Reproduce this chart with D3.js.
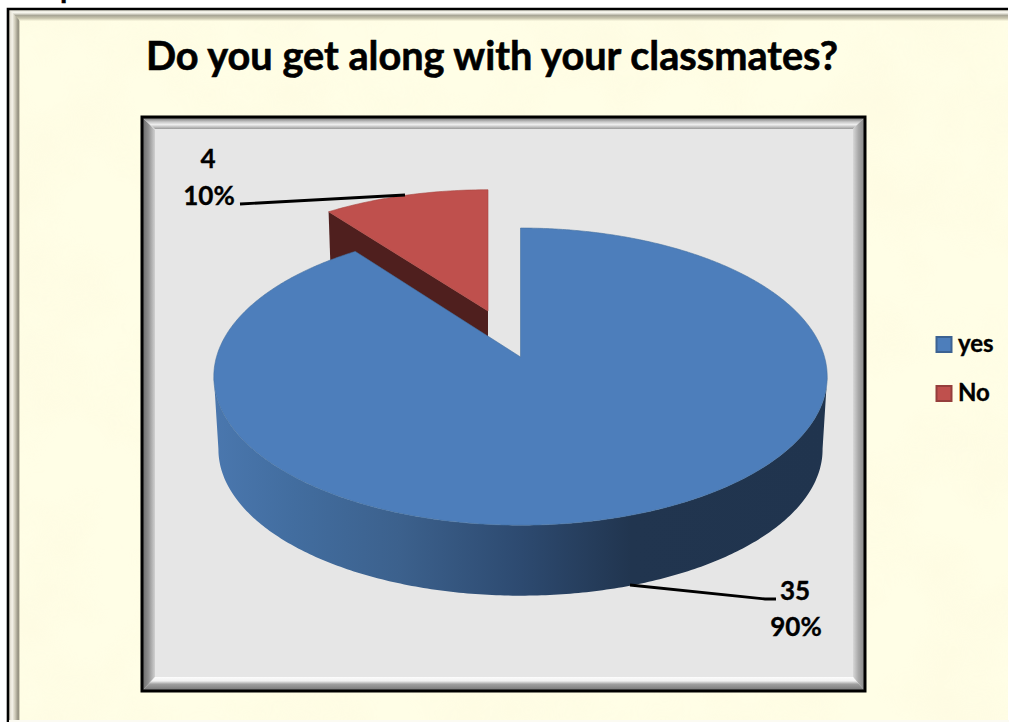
<!DOCTYPE html>
<html><head><meta charset="utf-8">
<script src="https://cdnjs.cloudflare.com/ajax/libs/d3/7.8.5/d3.min.js"></script>
<style>html,body{margin:0;padding:0;background:#fff;overflow:hidden}svg{display:block}text{font-family:Lato,"Open Sans",sans-serif;font-weight:700;fill:#000;stroke:#000;stroke-width:.35px}</style>
</head><body><svg id="c" width="1009" height="722"></svg>
<script>
const titleText = "Do you get along with your classmates?";
const categories = ["yes", "No"];
const values = [35, 4];
const topColors = ["#4d7ebb", "#bf504d"];
const redWall = "#4f1f1e";

const svg = d3.select("#c");
const defs = svg.append("defs");
const total = d3.sum(values);
const pct = d3.format(".0%");
const slices = d3.pie().sort(null).value(d => d)(values);

function grad(id, x1, y1, x2, y2, stops, user) {
  const g = defs.append("linearGradient").attr("id", id)
    .attr("x1", x1).attr("y1", y1).attr("x2", x2).attr("y2", y2);
  if (user) g.attr("gradientUnits", "userSpaceOnUse");
  stops.forEach(s => g.append("stop").attr("offset", s[0]).attr("stop-color", s[1]));
}
grad("wall", 214, 0, 828, 0, [[0,"#4a77ae"],[.13,"#426d9f"],[.3,"#3c618d"],[.5,"#2d4a70"],[.68,"#21354f"],[1,"#20344e"]], true);
const f = defs.append("filter").attr("id","paper").attr("x",0).attr("y",0).attr("width",1).attr("height",1);
f.append("feTurbulence").attr("type","fractalNoise").attr("baseFrequency","0.012").attr("numOctaves",3).attr("seed",7);
f.append("feColorMatrix").attr("type","matrix").attr("values","0 0 0 0 0.98  0 0 0 0 0.93  0 0 0 0 0.72  1.6 0 0 0 -0.6");

// outer frame
svg.append("rect").attr("x",7).attr("y",8).attr("width",1001).attr("height",712).attr("fill","#fffee6");
svg.append("rect").attr("x",19).attr("y",20).attr("width",989).attr("height",700).attr("filter","url(#paper)").attr("opacity",.45);
grad("fTop",0,0,0,1,[[0,"#e8e5d8"],[.25,"#f7f6ee"],[.5,"#a9a696"],[.75,"#c9c5ae"],[1,"#fdfbe2"]]);
grad("fLeft",9,0,20,0,[[0,"#d8d4c6"],[.3,"#f4f2e8"],[.55,"#cfcbb9"],[.85,"#8f8c7c"],[1,"#f5f2d8"]],true);
svg.append("path").attr("d","M9,10H20V720H9Z").attr("fill","url(#fLeft)");
svg.append("path").attr("d","M10,10H1008V21H20Z").attr("fill","url(#fTop)");
svg.append("path").attr("d","M8,722V9H1008").attr("fill","none").attr("stroke","#000").attr("stroke-width",2.6);
svg.append("rect").attr("x",9).attr("y",720).attr("width",1000).attr("height",2).attr("fill","#fbfaf2");
svg.append("text").attr("x",60).attr("y",-2).attr("font-size",30).text("p");

// plot box
const px0=143, py0=118, px1=864, py1=690, b=12;
grad("bL",0,0,1,0,[[0,"#6e6e6e"],[.45,"#8f8f8f"],[1,"#d0d0d0"]]);
grad("bT",0,0,0,1,[[0,"#777"],[.35,"#c8c8c8"],[.6,"#eee"],[1,"#9a9a9a"]]);
grad("bR",0,0,1,0,[[0,"#d8d8d8"],[.5,"#a8a8a8"],[1,"#8a8a8a"]]);
grad("bB",0,0,0,1,[[0,"#fdfdfd"],[.3,"#f2f2f2"],[.55,"#a0a0a0"],[1,"#7a7a7a"]]);
svg.append("rect").attr("x",px0).attr("y",py0).attr("width",px1-px0).attr("height",py1-py0).attr("fill","#e6e6e6");
svg.append("path").attr("d",`M${px0},${py0}L${px0+b},${py0+b}V${py1-b-1}L${px0},${py1}Z`).attr("fill","url(#bL)");
svg.append("path").attr("d",`M${px0},${py0}H${px1}L${px1-b+1},${py0+b-1}H${px0+b}Z`).attr("fill","url(#bT)");
svg.append("path").attr("d",`M${px1},${py0}V${py1}L${px1-b+1},${py1-b-1}V${py0+b-1}Z`).attr("fill","url(#bR)");
svg.append("path").attr("d",`M${px0},${py1}H${px1}L${px1-b+1},${py1-b-1}H${px0+b}Z`).attr("fill","url(#bB)");
svg.append("rect").attr("x",px0-1).attr("y",py0-1).attr("width",px1-px0+2).attr("height",py1-py0+2).attr("fill","none").attr("stroke","#000").attr("stroke-width",3);

// perspective disc: angle (clockwise from top) -> screen
const R = {cx:520.5, cy:357, c:304, a:146, k:0.132, drop:73, shrink:0.985};
function proj(theta, r, o, bottom) {
  const u = r*Math.sin(theta), v = r*Math.cos(theta), w = 1 + R.k*v;
  let x = R.c*u/w, y = -R.a*v/w;
  if (bottom) { x *= R.shrink; y = y*R.shrink + R.drop; }
  return [o.dx + R.cx + o.sx*x, o.dy + R.cy + o.sy*y];
}
const line = d3.line();
const range = (a, b, n) => d3.range(n+1).map(i => a + (b-a)*i/n);
const home = {dx:0, dy:0, sx:1, sy:1};
const pulled = {dx:-32.5, dy:-46, sx:0.965, sy:0.94};
const yes = slices[0], no = slices[1];

const nCorner = no.startAngle;
svg.append("path").attr("fill", redWall).attr("d", line([
  proj(nCorner,1,pulled), proj(0,0,pulled), proj(0,0,pulled,true), proj(nCorner,1,pulled,true)
])+"Z");
svg.append("path").attr("fill", topColors[1]).attr("stroke","#a8443f").attr("stroke-width",.6).attr("d", line(
  [proj(0,0,pulled)].concat(range(no.startAngle,no.endAngle,40).map(t=>proj(t,1,pulled)))
)+"Z");

const samples = range(yes.startAngle, yes.endAngle, 720);
const tR = d3.greatest(samples, t => proj(t,1,home)[0]);
const tL = d3.least(samples, t => proj(t,1,home)[0]);
const front = range(tR, tL, 240);
svg.append("path").attr("fill","url(#wall)").attr("d", line(
  front.map(t=>proj(t,1,home)).concat(front.slice().reverse().map(t=>proj(t,1,home,true)))
)+"Z");
svg.append("path").attr("fill", topColors[0]).attr("stroke","#44709f").attr("stroke-width",.6).attr("d", line(
  [proj(0,0,home)].concat(samples.map(t=>proj(t,1,home)))
)+"Z");

// leader lines
[[[240,204],[405,195]], [[630,585],[765,599],[776,599]]].forEach(p =>
  svg.append("path").attr("d",line(p)).attr("fill","none").attr("stroke","#000").attr("stroke-width",2.8));

// labels
function lab(i, x1, y1, x2, y2) {
  svg.append("text").attr("x",x1).attr("y",y1).attr("text-anchor","middle").attr("font-size",26).text(values[i]);
  svg.append("text").attr("x",x2).attr("y",y2).attr("text-anchor","middle").attr("font-size",26).text(pct(values[i]/total));
}
lab(1, 208, 168, 209, 205);
lab(0, 795, 600, 796, 636);

// title
svg.append("text").attr("x",492).attr("y",70).attr("text-anchor","middle").attr("font-size",39.7).style("stroke-width",".6px").text(titleText);

// legend
const legY = d3.scalePoint().domain(categories).range([345,394]);
categories.forEach((c,i) => {
  const col = d3.color(topColors[i]);
  svg.append("rect").attr("x",936.5).attr("y",legY(c)-8).attr("width",15).attr("height",15).attr("fill",topColors[i]).attr("stroke",col.darker(.7)).attr("stroke-width",2);
  svg.append("text").attr("x",958).attr("y",legY(c)+7).attr("font-size",24).text(c);
});
</script></body></html>
